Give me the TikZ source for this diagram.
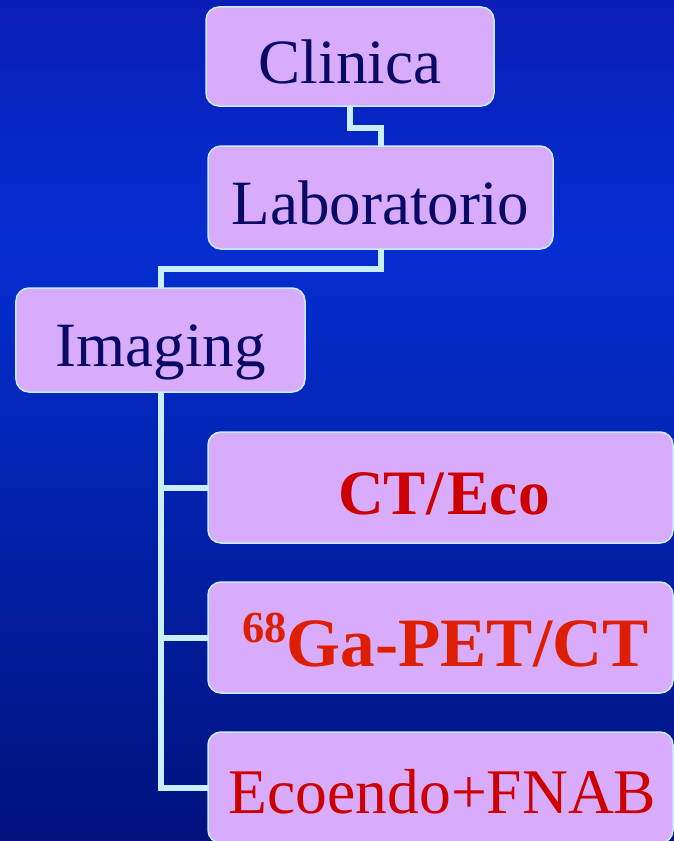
\documentclass[tikz,border=0pt]{standalone}
\usepackage{fontspec}
\setmainfont{Liberation Serif}

\definecolor{bgtop}{HTML}{0A1EB6}
\definecolor{bgmid}{HTML}{052ED2}
\definecolor{bgbot}{HTML}{00127C}
\definecolor{boxfill}{HTML}{D8ACFB}
\definecolor{linkcol}{HTML}{C8EEFF}
\definecolor{navy}{HTML}{0A0A66}
\definecolor{darkred}{HTML}{CC0000}
\definecolor{orangered}{HTML}{DD1E00}

\tikzset{
  card/.style={draw=linkcol, line width=1.5bp, fill=boxfill, rounded corners=13bp,
    inner sep=0pt, outer sep=0pt, align=center,
    text height=53bp, text depth=0bp},
  navytext/.style={text=navy, font=\fontsize{63.3}{70}\selectfont},
  link/.style={draw=linkcol, line width=6bp, line join=miter},
}

\begin{document}
\begin{tikzpicture}[x=1bp, y=-1bp]
  \useasboundingbox (0,0) rectangle (674,841);

  % background gradient, brightest a little above the middle
  \shade[top color=bgtop, bottom color=bgmid] (0,0) rectangle (674,241);
  \shade[top color=bgmid, bottom color=bgbot] (0,240) rectangle (674,841);

  % boxes
  \node[card, navytext, minimum width=288bp, minimum height=99bp]
    (clin) at (350,56.5) {Clinica};
  \node[card, navytext, minimum width=345bp, minimum height=103bp]
    (lab) at (380.5,197.5) {Laboratorio};
  \node[card, navytext, minimum width=289bp, minimum height=104bp]
    (img) at (160.5,340) {Imaging};
  \node[card, text=darkred, font=\bfseries\fontsize{63.5}{70}\selectfont,
    minimum width=465bp, minimum height=111bp]
    (ct) at (440.5,487.5) {\hspace*{7bp}CT/\kern4bp Eco};
  \node[card, text=orangered, font=\bfseries\fontsize{69.5}{75}\selectfont,
    text height=57bp, minimum width=465bp, minimum height=111bp]
    (ga) at (440.5,637.5)
    {\hspace*{10bp}\raisebox{24bp}{\fontsize{44.5}{48}\selectfont 68}Ga-PET/CT};
  \node[card, text=darkred, font=\fontsize{63.8}{70}\selectfont,
    text height=51bp, minimum width=465bp, minimum height=111bp]
    (eco) at (440.5,787.5) {\hspace*{4bp}Ecoendo+FNAB};

  % elbows of the connectors
  \coordinate (k1) at (350,128);
  \coordinate (k2) at (380.5,269);

  % connectors
  \draw[link] (clin.south) -- (k1) -| (lab.north);
  \draw[link] (lab.south) -- (k2) -| (img.north);
  \draw[link] (img.south) |- (ct.west);
  \draw[link] (img.south) |- (ga.west);
  \draw[link] (img.south) |- (eco.west);
\end{tikzpicture}
\end{document}
